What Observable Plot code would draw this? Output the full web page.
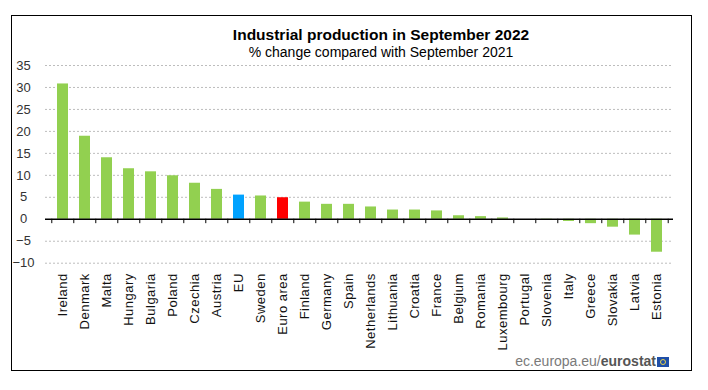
<!DOCTYPE html>
<html>
<head>
<meta charset="utf-8">
<script src="https://cdn.jsdelivr.net/npm/d3@7"></script>
<script src="https://cdn.jsdelivr.net/npm/@observablehq/plot@0.6"></script>
<style>
  html, body { margin: 0; padding: 0; background: #fff; }
  #wrap { position: relative; width: 708px; height: 390px; overflow: hidden; font-family: 'Liberation Sans', Arial, sans-serif; }
  #frame { position: absolute; left: 11px; top: 15px; width: 681px; height: 356px; border: 1.5px solid #000; box-sizing: border-box; }
  #chart { position: absolute; left: 0; top: 0; }
  #chart g[aria-label="x-axis tick label"] text { letter-spacing: 0.5px; }
  .title { position: absolute; left: 381px; transform: translateX(-50%); white-space: nowrap; line-height: 1; color: #000; }
  #t1 { top: 27px; font-size: 15.5px; font-weight: bold; }
  #t2 { top: 45px; font-size: 14px; }
  #footer { position: absolute; right: 39px; top: 354px; font-size: 14px; line-height: 1; white-space: nowrap; display: flex; align-items: flex-end; }
  #footer .a { color: #7a7a7a; }
  #footer .b { color: #555; font-weight: bold; }
  #flag { display: inline-block; width: 12px; height: 10px; background: #1f4fa8; margin-left: 1px; margin-bottom: 1px; position: relative; }
  #flag::after { content: ""; position: absolute; left: 3px; top: 2px; width: 4px; height: 4px; border: 1px solid #e8d34a; border-radius: 50%; }
</style>
</head>
<body>
<div id="wrap">
  <div id="frame"></div>
  <div id="chart"></div>
  <div class="title" id="t1">Industrial production in September 2022</div>
  <div class="title" id="t2">% change compared with September 2021</div>
  <div id="footer"><span class="a">ec.europa.eu/</span><span class="b">eurostat</span><span id="flag"></span></div>
</div>
<script>
const categories = ["Ireland","Denmark","Malta","Hungary","Bulgaria","Poland","Czechia","Austria","EU","Sweden","Euro area","Finland","Germany","Spain","Netherlands","Lithuania","Croatia","France","Belgium","Romania","Luxembourg","Portugal","Slovenia","Italy","Greece","Slovakia","Latvia","Estonia"];
const values = [30.8, 18.9, 14.0, 11.5, 10.8, 9.9, 8.2, 6.8, 5.5, 5.3, 4.9, 3.9, 3.4, 3.4, 2.8, 2.1, 2.1, 1.9, 0.8, 0.6, 0.3, 0.0, -0.2, -0.5, -1.0, -1.8, -3.6, -7.5];
const yTicks = [-10, -5, 0, 5, 10, 15, 20, 25, 30, 35];

const data = categories.map((c, i) => ({country: c, value: values[i]}));
const fillFor = c => c === "EU" ? "#00a2ff" : c === "Euro area" ? "#ff0000" : "#92d050";

const W = 708, H = 390, mL = 45, mR = 35;
const step = (W - mL - mR) / categories.length;

const chart = Plot.plot({
  width: W, height: H,
  marginLeft: mL, marginRight: mR, marginTop: 65, marginBottom: 127.3,
  style: {fontFamily: "'Liberation Sans', Arial, sans-serif", fontSize: "13px", background: "transparent", overflow: "visible"},
  x: {domain: categories, paddingInner: 0.5, paddingOuter: 0.25, label: null},
  y: {domain: [-10, 35], label: null},
  color: {type: "identity"},
  marks: [
    Plot.gridY(yTicks.filter(t => t !== 0), {stroke: "#bdbdbd", strokeOpacity: 1, strokeDasharray: "2,2"}),
    Plot.barY(data, {x: "country", y: "value", fill: d => fillFor(d.country)}),
    Plot.ruleY([0], {stroke: "#000", strokeWidth: 1.5}),
    Plot.ruleX(categories, {x: d => d, y1: 0, y2: -1, dx: -step / 2, stroke: "#000"}),
    Plot.ruleX([categories[categories.length - 1]], {x: d => d, y1: 0, y2: -1, dx: step / 2, stroke: "#000"}),
    Plot.axisY(yTicks, {tickSize: 0, tickPadding: 22, textAnchor: "middle", fill: "#333", fontSize: 13}),
    Plot.axisX({tickSize: 0, tickPadding: 10, tickRotate: -90, fill: "#111", fontSize: 13, label: null})
  ]
});
document.getElementById("chart").appendChild(chart);
</script>
</body>
</html>
